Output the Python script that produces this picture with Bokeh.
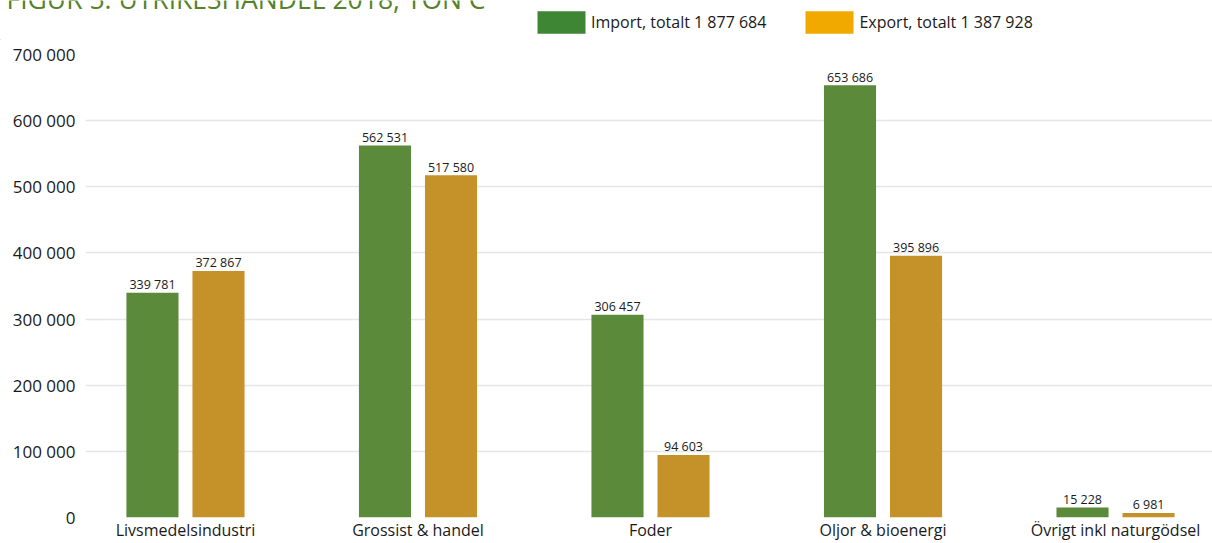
from bokeh.plotting import figure
from bokeh.layouts import column
from bokeh.models import ColumnDataSource, Range1d, FixedTicker, Label, Legend, LegendItem
from bokeh.transform import dodge
from bokeh.core.properties import value
from bokeh.embed import file_html
from bokeh.resources import INLINE

# ---- data ----
categories = ["Livsmedelsindustri", "Grossist & handel", "Foder",
              "Oljor & bioenergi", "Övrigt inkl naturgödsel"]
import_values = [339781, 562531, 306457, 653686, 15228]
export_values = [372867, 517580, 94603, 395896, 6981]
import_total = 1877684
export_total = 1387928
y_ticks = [0, 100000, 200000, 300000, 400000, 500000, 600000, 700000]
title_text = "FIGUR 5. UTRIKESHANDEL 2018, TON C"


def fmt(v):
    return f"{v:,}".replace(",", " ")


FONT = "Open Sans"
TXT = "#1a1a1a"
idx = list(range(len(categories)))
src = ColumnDataSource(dict(
    idx=idx,
    cat=categories,
    imp=import_values,
    exp=export_values,
    imp_lbl=[fmt(v) for v in import_values],
    exp_lbl=[fmt(v) for v in export_values],
))

# ---------------- header (title + legend) ----------------
HEAD_H = 40
head = figure(width=1212, height=HEAD_H, output_backend="svg", toolbar_location=None,
              x_range=Range1d(0, 1212), y_range=Range1d(0, HEAD_H),
              x_axis_location=None, y_axis_location=None,
              min_border=0, outline_line_color=None)
head.grid.visible = False
head.frame_align = False

head.add_layout(Label(x=6, y=42, x_units="screen", y_units="screen",
                      text=title_text, text_font=FONT, text_font_size="26.5px",
                      text_color="#55822a", text_baseline="alphabetic"))

# swatch renderers for the legend (their single point lies outside the view)
d_imp = head.vbar(x=[-5000], top=[1], width=1, fill_color="#3e8534", line_color=None)
d_exp = head.vbar(x=[-5000], top=[1], width=1, fill_color="#f1a900", line_color=None)
legend = Legend(items=[
    LegendItem(label=f"Import, totalt {fmt(import_total)}", renderers=[d_imp]),
    LegendItem(label=f"Export, totalt {fmt(export_total)}", renderers=[d_exp]),
], orientation="horizontal", location=(531, 4),
    glyph_width=60, glyph_height=28, label_standoff=-4, spacing=33,
    padding=0, margin=0, border_line_color=None, background_fill_alpha=0,
    label_text_font=FONT, label_text_font_size="16px", label_text_color=TXT,
    label_height=22)
head.add_layout(legend, "center")

# ---------------- main chart ----------------
p = figure(width=1212, height=543 - HEAD_H, output_backend="svg", toolbar_location=None,
           x_range=Range1d(-0.43, 4.417), y_range=Range1d(0, 700000),
           min_border_left=85, min_border_right=0, min_border_top=54 - HEAD_H,
           min_border_bottom=26, outline_line_color=None)
p.frame_align = False

off = 0.142
bw = 0.224
imp_col = "#5b8a3b"
exp_col = "#c5922a"

p.vbar(x=dodge("idx", -off, range=p.x_range), top="imp", width=bw,
       source=src, fill_color=imp_col, line_color=None)
p.vbar(x=dodge("idx", off, range=p.x_range), top="exp", width=bw,
       source=src, fill_color=exp_col, line_color=None)

for col, lbl, o in (("imp", "imp_lbl", -off), ("exp", "exp_lbl", off)):
    p.text(x=dodge("idx", o, range=p.x_range), y=col, text=lbl, source=src,
           text_align="center", text_baseline="alphabetic", y_offset=-8,
           text_font=value(FONT), text_font_size="12.5px", text_color=TXT)

p.yaxis.ticker = FixedTicker(ticks=y_ticks)
p.yaxis.major_label_overrides = {t: fmt(t) for t in y_ticks}
p.yaxis.axis_line_color = None
p.yaxis.major_tick_line_color = None
p.yaxis.minor_tick_line_color = None
p.yaxis.major_label_text_font = FONT
p.yaxis.major_label_text_font_size = "17px"
p.yaxis.major_label_text_color = TXT
p.yaxis.major_label_text_baseline = "alphabetic"
p.yaxis.major_label_standoff = 4

p.xaxis.ticker = FixedTicker(ticks=idx)
p.xaxis.major_label_overrides = {i: c for i, c in zip(idx, categories)}
p.xaxis.axis_line_color = None
p.xaxis.major_tick_line_color = None
p.xaxis.minor_tick_line_color = None
p.xaxis.major_label_text_font = FONT
p.xaxis.major_label_text_font_size = "16px"
p.xaxis.major_label_text_color = TXT
p.xaxis.major_label_standoff = -5

p.xgrid.grid_line_color = None
p.ygrid.ticker = FixedTicker(ticks=y_ticks)
p.ygrid.grid_line_color = "#e6e6e6"
p.ygrid.grid_line_width = 1.5

layout = column(head, p, spacing=0)
open("out.html", "w").write(file_html(layout, INLINE))
